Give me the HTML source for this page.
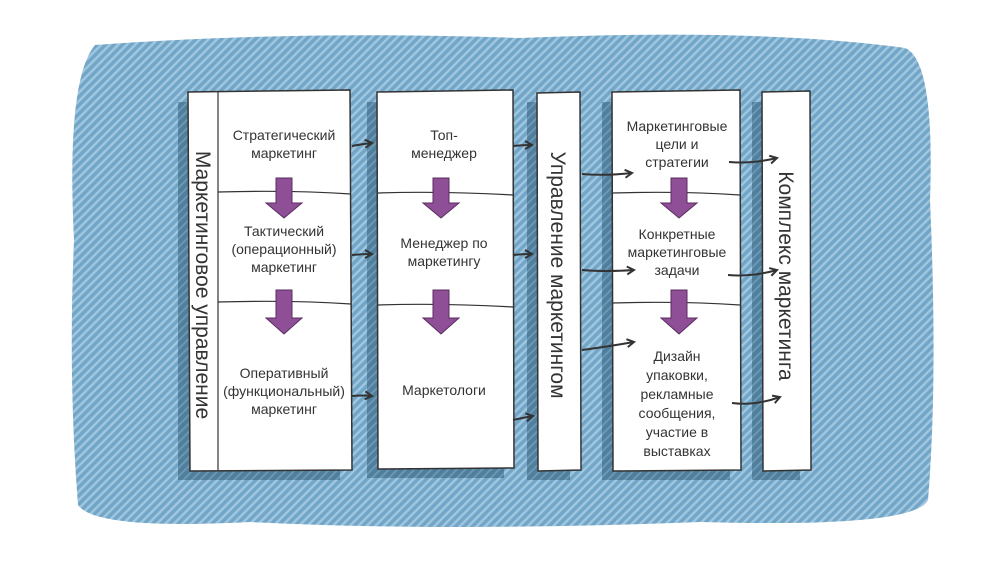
<!DOCTYPE html>
<html><head><meta charset="utf-8"><style>
body{margin:0;background:#fff}
svg{display:block}
text{font-family:"Liberation Sans","DejaVu Sans",sans-serif;fill:#333}
</style></head><body>
<svg width="1000" height="563" viewBox="0 0 1000 563">
<defs>
<pattern id="h" width="6" height="6" patternUnits="userSpaceOnUse" patternTransform="rotate(45)">
<rect width="6" height="6" fill="#72a6c8"/><rect width="2.5" height="6" fill="#a0c6de"/>
</pattern>
<pattern id="hs" width="6" height="6" patternUnits="userSpaceOnUse" patternTransform="rotate(45)">
<rect width="6" height="6" fill="#4f7f9c"/><rect width="2" height="6" fill="#6b97b3"/>
</pattern>
<marker id="a" markerWidth="10" markerHeight="10" refX="8" refY="5" orient="auto" markerUnits="userSpaceOnUse">
<path d="M1,1 L8,5 L1,9" fill="none" stroke="#333" stroke-width="2"/>
</marker>
</defs>
<path d="M95,45 Q300,30 520,38 Q760,28 905,48 Q935,60 930,200 Q938,380 928,500 Q915,528 700,522 Q450,532 250,522 Q95,530 78,505 Q68,380 74,240 Q66,80 95,45Z" fill="url(#h)"/>
<g fill="url(#hs)">
<rect x="178" y="102" width="162" height="378"/>
<rect x="367" y="102" width="137" height="376"/>
<rect x="527" y="102" width="43" height="378"/>
<rect x="602" y="102" width="128" height="378"/>
<rect x="752" y="102" width="48" height="378"/>
</g>
<g fill="#fff" stroke="#333" stroke-width="1.5">
<path d="M188,92 L350,90 L352,470 L190,471Z"/>
<path d="M377,92 L513,90 L514,468 L378,469Z"/>
<path d="M537,93 L580,92 L581,470 L538,471Z"/>
<path d="M612,92 L740,90 L741,470 L613,471Z"/>
<path d="M762,92 L810,91 L811,470 L763,471Z"/>
</g>
<g stroke="#333" stroke-width="1.2" fill="none">
<line x1="218" y1="91" x2="218" y2="470"/>
<path d="M218,192 Q290,190 351,194"/>
<path d="M218,302 Q290,300 351,304"/>
<path d="M377,193 Q440,191 513,195"/>
<path d="M377,305 Q440,303 513,307"/>
<path d="M612,193 Q680,191 740,195"/>
<path d="M612,303 Q680,301 740,305"/>
</g>
<g fill="#8e4f96" stroke="#5a2c60" stroke-width="1">
<path d="M276,178 L292,178 L292,203 L302,203 L284,218 L266,203 L276,203Z"/>
<path d="M276,290 L292,290 L292,318 L302,318 L284,334 L266,318 L276,318Z"/>
<path d="M433,178 L449,178 L449,203 L459,203 L441,218 L423,203 L433,203Z"/>
<path d="M433,290 L449,290 L449,318 L459,318 L441,334 L423,318 L433,318Z"/>
<path d="M671,178 L687,178 L687,203 L697,203 L679,218 L661,203 L671,203Z"/>
<path d="M671,290 L687,290 L687,318 L697,318 L679,334 L661,318 L671,318Z"/>
</g>
<g stroke="#333" stroke-width="2" fill="none" marker-end="url(#a)">
<path d="M352,146 Q362,144 372,143"/>
<path d="M352,255 Q362,254 372,254"/>
<path d="M352,396 Q362,395 372,396"/>
<path d="M513,146 Q522,145 532,145"/>
<path d="M513,255 Q522,254 532,254"/>
<path d="M513,420 Q522,418 533,416"/>
<path d="M582,174 Q605,176 632,173"/>
<path d="M582,270 Q605,272 634,270"/>
<path d="M582,350 Q605,347 634,342"/>
<path d="M729,162 Q752,164 777,158"/>
<path d="M728,275 Q752,277 777,270"/>
<path d="M732,403 Q755,406 780,397"/>
</g>
<g font-size="14" text-anchor="middle">
<text x="284" y="140">Стратегический</text><text x="284" y="158">маркетинг</text>
<text x="284" y="236">Тактический</text><text x="284" y="254">(операционный)</text><text x="284" y="272">маркетинг</text>
<text x="284" y="378">Оперативный</text><text x="284" y="396">(функциональный)</text><text x="284" y="414">маркетинг</text>
<text x="444" y="140">Топ-</text><text x="444" y="158">менеджер</text>
<text x="444" y="248">Менеджер по</text><text x="444" y="266">маркетингу</text>
<text x="444" y="395">Маркетологи</text>
<text x="677" y="131">Маркетинговые</text><text x="677" y="149">цели и</text><text x="677" y="167">стратегии</text>
<text x="677" y="239">Конкретные</text><text x="677" y="257">маркетинговые</text><text x="677" y="275">задачи</text>
<text x="677" y="361">Дизайн</text><text x="677" y="380">упаковки,</text><text x="677" y="399">рекламные</text><text x="677" y="418">сообщения,</text><text x="677" y="437">участие в</text><text x="677" y="456">выставках</text>
</g>
<g font-size="21" text-anchor="middle">
<text transform="translate(196,285) rotate(90)">Маркетинговое управление</text>
<text transform="translate(551,275) rotate(90)">Управление маркетингом</text>
<text transform="translate(779,276) rotate(90)">Комплекс маркетинга</text>
</g>
</svg>
</body></html>
